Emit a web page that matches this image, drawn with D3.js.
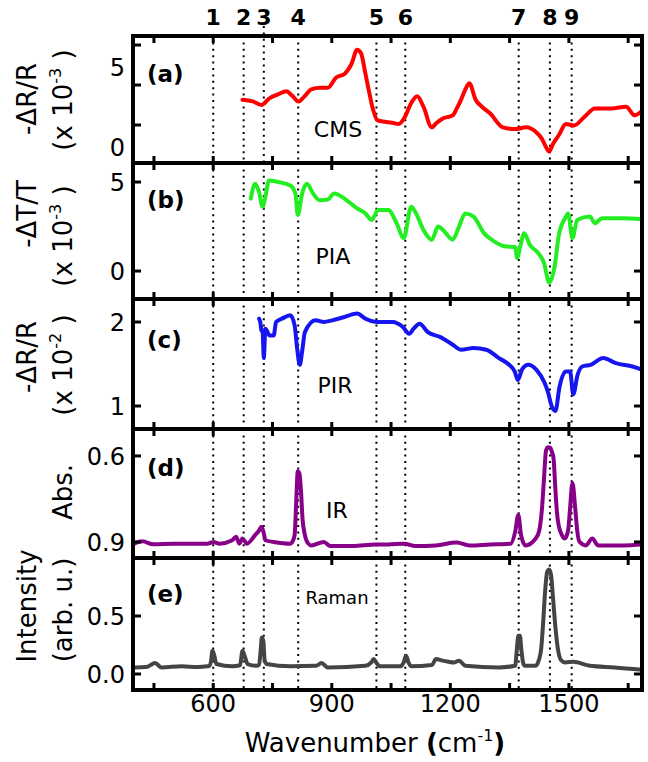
<!DOCTYPE html>
<html><head><meta charset="utf-8">
<script src="https://cdn.jsdelivr.net/npm/d3@7"></script>
<style>body{margin:0;background:#fff}svg{display:block}text{font-family:"DejaVu Sans",Verdana,sans-serif;fill:#000}</style>
</head><body><svg id="c" width="648" height="762"></svg>
<script>
// ---------- DATA ----------
const modeLabels = ["1","2","3","4","5","6","7","8","9"];
const modeWave = [600, 677, 728, 815, 1013, 1086, 1373, 1452, 1507];
const xTicks = [450, 600, 750, 900, 1050, 1200, 1350, 1500, 1650];
const xTickLabels = [600, 900, 1200, 1500];

const cmsWave = [674,700,722,743,765,785,800,816,832,848,870,890,911,932,950,964,974,985,995,1005,1016,1030,1042,1055,1069,1085,1100,1116,1132,1153,1165,1180,1206,1216,1227,1238,1248,1264,1280,1301,1333,1365,1391,1418,1432,1442,1450,1460,1476,1492,1513,1539,1566,1608,1645,1666,1687];
const cmsVal  = [2.95,2.85,2.63,3.06,3.3,3.49,3.2,2.84,3.2,3.6,3.7,3.7,4.35,4.57,5.2,6.08,5.86,4.6,3.38,2.3,1.66,1.6,1.55,1.5,1.44,1.88,2.7,3.17,2.52,1.23,1.5,1.77,1.98,2.4,2.95,3.6,3.99,2.95,2.52,2.09,1.23,1.12,1.23,0.91,0.5,0.0,-0.28,0.2,0.8,1.44,1.34,1.88,2.41,2.41,2.52,1.98,2.3];

const piaWave = [695,706,716,725,732,741,764,795,808,814,825,837,853,869,890,906,932,964,985,1001,1017,1043,1064,1082,1101,1111,1132,1153,1169,1185,1206,1222,1238,1259,1285,1311,1338,1364,1369,1377,1387,1401,1422,1437,1450,1464,1474,1490,1498,1509,1521,1553,1566,1584,1637,1685];
const piaVal  = [4.07,4.9,4.44,3.61,4.17,5.09,5.0,4.81,4.35,3.15,4.35,4.9,4.35,3.98,4.02,4.35,4.07,3.52,3.24,2.87,3.43,3.43,2.69,1.85,3.61,3.33,2.31,1.76,2.5,2.22,1.76,2.5,3.24,3.06,2.13,1.67,1.39,1.35,0.74,1.39,2.13,1.48,1.02,0.46,-0.65,0.28,1.94,2.96,3.24,1.85,2.87,3.06,2.69,2.96,2.96,2.91];

const pirWave = [716,719,722,725,728,732,743,753,759,774,795,806,812,819,825,832,859,880,901,932,964,985,1017,1054,1080,1096,1107,1122,1143,1175,1206,1227,1259,1291,1323,1349,1363,1371,1381,1397,1418,1439,1448,1455,1466,1476,1492,1503,1511,1522,1534,1555,1587,1619,1661,1687];
const pirVal  = [2.04,2.0,1.9,1.88,1.57,1.92,1.84,1.84,2.0,2.04,2.08,1.96,1.7,1.49,1.65,1.88,2.02,2.0,2.02,2.06,2.1,2.04,2.0,2.0,1.94,1.86,1.92,1.98,1.88,1.82,1.73,1.67,1.69,1.67,1.57,1.49,1.41,1.31,1.43,1.49,1.43,1.27,1.15,1.02,0.94,1.22,1.41,1.41,1.14,1.37,1.47,1.49,1.57,1.51,1.47,1.43];

const irWave = [400,421,448,500,585,601,616,648,658,666,674,685,706,716,722,728,732,753,795,800,806,810,814,818,822,826,832,840,848,880,896,953,1011,1042,1084,1111,1163,1216,1248,1300,1353,1364,1372,1379,1390,1416,1425,1432,1437,1442,1447,1453,1458,1461,1466,1470,1474,1482,1490,1498,1503,1509,1516,1521,1527,1543,1559,1574,1637,1685];
const irVal  = [0.906,0.898,0.908,0.906,0.906,0.9,0.906,0.894,0.882,0.906,0.888,0.906,0.876,0.86,0.847,0.87,0.894,0.9,0.906,0.9,0.876,0.76,0.653,0.66,0.72,0.82,0.876,0.905,0.912,0.9,0.914,0.914,0.909,0.909,0.906,0.914,0.912,0.902,0.912,0.909,0.906,0.865,0.806,0.876,0.912,0.888,0.86,0.782,0.68,0.582,0.57,0.571,0.59,0.606,0.72,0.8,0.841,0.875,0.888,0.86,0.782,0.694,0.782,0.86,0.9,0.912,0.888,0.912,0.912,0.909];

const ramanWave = [400,430,453,469,520,560,585,590,594,598,602,608,648,668,674,680,687,710,716,720,723,727,730,735,795,860,874,890,985,1000,1006,1012,1022,1074,1082,1088,1094,1101,1153,1164,1180,1195,1210,1222,1238,1323,1364,1368,1372,1376,1380,1384,1388,1416,1424,1430,1435,1440,1445,1450,1455,1460,1466,1472,1480,1490,1511,1553,1616,1685];
const ramanVal  = [0.057,0.06,0.094,0.057,0.066,0.06,0.066,0.07,0.1,0.2,0.17,0.086,0.066,0.075,0.2,0.15,0.086,0.071,0.08,0.2,0.314,0.28,0.12,0.086,0.066,0.07,0.094,0.057,0.071,0.1,0.129,0.1,0.066,0.066,0.1,0.157,0.1,0.066,0.077,0.129,0.115,0.106,0.1,0.114,0.071,0.057,0.071,0.2,0.329,0.329,0.2,0.1,0.071,0.071,0.12,0.22,0.45,0.72,0.88,0.9,0.85,0.65,0.4,0.22,0.12,0.1,0.106,0.071,0.057,0.037];

// ---------- LAYOUT ----------
const svg = d3.select("#c");
const L = 133, R = 642;
const x = d3.scaleLinear().domain([397, 1685]).range([L, R]);

const panels = [
  {top:36, bottom:163, dom:[-1.0, 6.94], ticks:[1.375,3.875,6.375], labs:[0,5], fmt:d3.format("d"),
   wave:cmsWave, val:cmsVal, color:"#ff0000", letter:"(a)", ly:82, name:"CMS", nx:338, ny:137, ns:22,
   t1:"-ΔR/R", t1y:99, t2:["(x 10","-3"," )"], t2y:100},
  {top:163, bottom:299, dom:[-1.57, 6.07], ticks:[0,5], labs:[0,5], fmt:d3.format("d"),
   wave:piaWave, val:piaVal, color:"#22ee22", letter:"(b)", ly:208, name:"PIA", nx:333, ny:264, ns:22,
   t1:"-ΔT/T", t1y:214, t2:["(x 10","-3"," )"], t2y:236},
  {top:299, bottom:429, dom:[0.726, 2.274], ticks:[1,2], labs:[1,2], fmt:d3.format("d"),
   wave:pirWave, val:pirVal, color:"#1515f0", letter:"(c)", ly:348, name:"PIR", nx:335, ny:393, ns:22,
   t1:"-ΔR/R", t1y:357, t2:["(x 10","-2"," )"], t2y:365},
  {top:429, bottom:558, dom:[0.956, 0.506], ticks:[0.6,0.9], labs:[0.6,0.9], fmt:d3.format(".1f"),
   wave:irWave, val:irVal, color:"#880088", letter:"(d)", ly:476, name:"IR", nx:337, ny:518, ns:22,
   t1:null, t2:["Abs."], t2y:492},
  {top:558, bottom:690, dom:[-0.138, 1.0], ticks:[0,0.5], labs:[0,0.5], fmt:d3.format(".1f"),
   wave:ramanWave, val:ramanVal, color:"#444444", letter:"(e)", ly:602, name:"Raman", nx:337, ny:604, ns:18,
   t1:"Intensity", t1y:606, t2:["(arb. u.)"], t2y:610}
];

const defs = svg.append("defs");

panels.forEach((p, i) => {
  const y = d3.scaleLinear().domain(p.dom).range([p.bottom, p.top]);
  defs.append("clipPath").attr("id", "clip" + i).append("rect")
    .attr("x", L).attr("y", p.top).attr("width", R - L).attr("height", p.bottom - p.top);

  const g = svg.append("g");
  // mode lines
  modeWave.forEach((w, k) => {
    const y0 = (i === 0 && k === 2) ? 26 : p.top;
    g.append("line").attr("x1", x(w)).attr("x2", x(w)).attr("y1", y0).attr("y2", p.bottom)
      .attr("stroke", "#000").attr("stroke-width", 2).attr("stroke-dasharray", "2,4.4");
  });
  // curve
  const pts = p.wave.map((w, k) => [w, p.val[k]]);
  g.append("path").datum(pts).attr("clip-path", `url(#clip${i})`)
    .attr("fill", "none").attr("stroke", p.color).attr("stroke-width", 4)
    .attr("stroke-linejoin", "round").attr("stroke-linecap", "round")
    .attr("d", d3.line().x(d => x(d[0])).y(d => y(d[1])).curve(d3.curveMonotoneX));

  // x ticks top and bottom (inward)
  const tk = 7;
  xTicks.forEach(t => {
    g.append("line").attr("x1", x(t)).attr("x2", x(t)).attr("y1", p.top).attr("y2", p.top + tk)
      .attr("stroke", "#000").attr("stroke-width", 3);
    g.append("line").attr("x1", x(t)).attr("x2", x(t)).attr("y1", p.bottom).attr("y2", p.bottom - tk)
      .attr("stroke", "#000").attr("stroke-width", 3);
  });
  // y ticks
  p.ticks.forEach(t => {
    g.append("line").attr("x1", L).attr("x2", L + 8).attr("y1", y(t)).attr("y2", y(t))
      .attr("stroke", "#000").attr("stroke-width", 3);
    g.append("line").attr("x1", R).attr("x2", R - 8).attr("y1", y(t)).attr("y2", y(t))
      .attr("stroke", "#000").attr("stroke-width", 3);
  });
  p.labs.forEach(t => {
    g.append("text").attr("x", 125).attr("y", y(t)).attr("dy", "0.36em")
      .attr("text-anchor", "end").attr("font-size", 24).text(p.fmt(t));
  });
  // frame
  g.append("rect").attr("x", L).attr("y", p.top).attr("width", R - L).attr("height", p.bottom - p.top)
    .attr("fill", "none").attr("stroke", "#000").attr("stroke-width", 4);

  // letter and name
  g.append("text").attr("x", 147).attr("y", p.ly).attr("font-size", 23).attr("font-weight", "bold").text(p.letter);
  g.append("text").attr("x", p.nx).attr("y", p.ny).attr("text-anchor", "middle")
    .attr("font-size", p.ns).text(p.name);

  // y titles
  if (p.t1) {
    svg.append("text").attr("transform", `translate(36,${p.t1y}) rotate(-90)`)
      .attr("text-anchor", "middle").attr("font-size", 26).text(p.t1);
  }
  const t2 = svg.append("text").attr("transform", `translate(72,${p.t2y}) rotate(-90)`)
    .attr("text-anchor", "middle").attr("font-size", 26);
  t2.append("tspan").text(p.t2[0]);
  if (p.t2.length > 1) {
    t2.append("tspan").attr("font-size", 16).attr("dy", -11).text(p.t2[1]);
    t2.append("tspan").attr("dy", 11).text(p.t2[2]);
  }
});

// x tick labels
xTickLabels.forEach(t => {
  svg.append("text").attr("x", x(t)).attr("y", 712).attr("text-anchor", "middle")
    .attr("font-size", 24).text(t);
});
// x title
const xt = svg.append("text").attr("x", 375).attr("y", 752).attr("text-anchor", "middle").attr("font-size", 26);
xt.append("tspan").text("Wavenumber ");
xt.append("tspan").attr("font-weight", "bold").text("(");
xt.append("tspan").text("cm");
xt.append("tspan").attr("font-size", 16).attr("dy", -11).text("-1");
xt.append("tspan").attr("dy", 11).attr("font-weight", "bold").text(")");

// mode numbers
modeWave.forEach((w, k) => {
  svg.append("text").attr("x", x(w)).attr("y", 25).attr("text-anchor", "middle")
    .attr("font-size", 22).attr("font-weight", "bold").text(modeLabels[k]);
});
</script></body></html>
